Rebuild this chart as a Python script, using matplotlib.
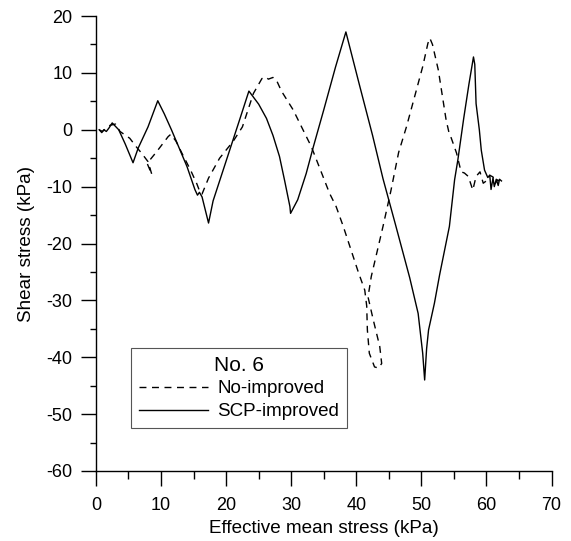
import matplotlib
matplotlib.use('Agg')
import matplotlib.pyplot as plt
from matplotlib.ticker import MultipleLocator

plt.rcParams['font.family'] = ['Liberation Sans', 'DejaVu Sans']
plt.rcParams['axes.unicode_minus'] = False

# SCP-improved (solid)
scp_x = [0.5, 0.9, 1.2, 1.6, 2.0, 2.5, 3.5, 4.5, 5.7,
         6.5, 8.0, 9.5, 10.5, 11.6, 12.6, 14.0, 15.2, 15.6, 15.9, 16.3, 17.3,
         18.0, 20.0, 22.0, 23.5, 25.0, 26.2, 27.2, 28.2, 29.0, 29.8, 29.9,
         31.0, 32.3, 33.4, 35.0, 36.8, 38.4,
         40.5, 42.5, 44.1, 46.0, 48.2, 49.5, 50.2, 50.5,
         50.8, 51.1, 52.0, 52.8, 54.3, 55.1, 55.6, 56.5, 57.3, 58.0, 58.2, 58.4, 58.9, 59.2, 59.7,
         60.2, 60.5, 60.7, 61.0, 61.2, 61.5, 61.8, 62.0, 62.3]
scp_y = [0.0, -0.5, 0.0, -0.3, 0.3, 1.2, 0.0, -2.5, -5.8,
         -3.2, 0.5, 5.1, 2.8, 0.0, -2.7, -6.5, -10.5, -11.5, -11.0, -11.8, -16.4,
         -12.5, -5.5, 1.5, 6.8, 4.5, 2.0, -1.0, -4.7, -9.0, -13.5, -14.7,
         -12.3, -7.7, -3.0, 3.5, 11.0, 17.2,
         7.8, -1.0, -8.6, -16.6, -26.0, -32.3, -39.3, -44.0,
         -38.5, -35.2, -30.5, -25.5, -17.0, -8.8, -5.3, 2.0, 8.0, 12.8, 11.5, 4.6, 0.0, -3.6, -7.1,
         -8.4, -8.0, -10.5, -8.5, -10.0, -8.7, -9.8, -8.7, -9.0]

# No-improved (dashed)
noi_x = [0.5, 1.0, 1.5, 2.2, 3.0, 3.7, 5.2, 6.2, 7.0, 8.0, 8.6, 7.9, 8.3, 9.3, 11.1, 11.5,
         12.3, 13.2, 14.5, 15.5, 16.0, 16.3, 17.3, 19.0, 21.1, 22.5, 24.2, 25.5, 26.0,
         26.5, 27.2, 27.7, 28.5, 30.3, 33.1, 35.9, 36.9, 38.0, 40.3, 41.3, 41.6, 41.7,
         42.0, 42.8, 43.4, 43.9, 43.6, 42.6, 41.8, 42.3, 44.1, 45.3, 46.5,
         47.7, 49.0, 50.2, 51.0, 51.3, 51.7, 52.6, 53.8, 54.2, 54.6, 55.4, 56.1, 56.6,
         57.2, 57.9, 58.4, 59.0, 59.5, 60.2, 60.5, 61.0, 61.3, 61.7, 62.0]
noi_y = [0.0, -0.3, 0.2, 0.8, 1.0, -0.3, -1.5, -3.0, -4.1, -5.6, -7.9, -6.0, -5.3, -3.9, -1.2, -0.8,
         -2.0, -4.1, -7.0, -9.5, -11.0, -11.3, -8.5, -5.0, -2.0, 0.5, 6.4, 9.0, 9.3,
         8.9, 9.2, 8.8, 6.8, 3.5, -3.0, -11.2, -13.5, -17.0, -25.0, -28.2, -31.0, -35.2,
         -39.3, -41.7, -41.9, -41.1, -38.1, -33.4, -29.4, -25.8, -17.0, -10.8, -4.0,
         0.5, 6.0, 11.1, 15.2, 16.1, 15.0, 10.5, 1.7, -0.3, -1.5, -4.1, -7.4, -7.6,
         -8.2, -10.6, -8.2, -7.4, -9.4, -8.8, -8.0, -8.3, -9.5, -8.8, -9.1]

fig = plt.figure(figsize=(5.71, 5.41), dpi=100)
ax = fig.add_axes([0.168, 0.1294, 0.798, 0.841])

ax.plot(noi_x, noi_y, color='black', lw=1.0, linestyle=(0, (5, 4)), label='No-improved')
ax.plot(scp_x, scp_y, color='black', lw=1.0, label='SCP-improved')

ax.set_xlim(0, 70)
ax.set_ylim(-60, 20)
ax.xaxis.set_major_locator(MultipleLocator(10))
ax.xaxis.set_minor_locator(MultipleLocator(5))
ax.yaxis.set_major_locator(MultipleLocator(10))
ax.yaxis.set_minor_locator(MultipleLocator(5))

for s in ['top', 'right']:
    ax.spines[s].set_visible(False)
for s in ['left', 'bottom']:
    ax.spines[s].set_linewidth(1.0)

ax.tick_params(axis='x', which='major', direction='out', length=11, width=1.0, labelsize=13, pad=8)
ax.tick_params(axis='x', which='minor', direction='out', length=6, width=1.0)
ax.tick_params(axis='y', which='major', direction='out', length=11, width=1.0, labelsize=13, pad=6)
ax.tick_params(axis='y', which='minor', direction='out', length=4.5, width=1.0)

ax.set_xlabel('Effective mean stress (kPa)', fontsize=13.6, labelpad=4)
ax.set_ylabel('Shear stress (kPa)', fontsize=13.6, labelpad=8)

leg = ax.legend(title='No. 6', loc='upper left', bbox_to_anchor=(0.077, 0.27),
                fontsize=13.5, title_fontsize=15, handlelength=3.7, handletextpad=0.5,
                labelspacing=0.3, borderpad=0.4, borderaxespad=0,
                fancybox=False, framealpha=1, edgecolor='#555555')
leg.get_frame().set_linewidth(0.8)

plt.savefig('out.png', dpi=100)
plt.close()
